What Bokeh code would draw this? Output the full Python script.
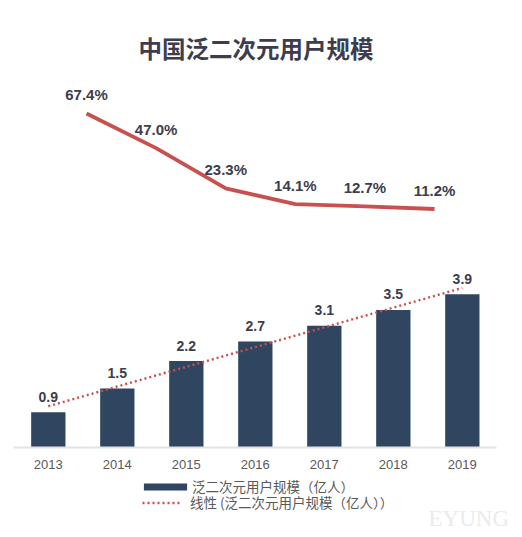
from bokeh.plotting import figure
from bokeh.core.properties import value
from bokeh.models import (ColumnDataSource, Range1d, Legend, LegendItem, FixedTicker, LinearAxis,
                          PrintfTickFormatter, LabelSet, Label, Title)
from bokeh.embed import file_html
from bokeh.resources import INLINE

title_text = "中国泛二次元用户规模"
years = [2013, 2014, 2015, 2016, 2017, 2018, 2019]
users = [0.9, 1.5, 2.2, 2.7, 3.1, 3.5, 3.9]
user_labels = ["0.9", "1.5", "2.2", "2.7", "3.1", "3.5", "3.9"]
trend_years = [2013, 2019]
trend_values = [1.05, 4.06]
growth_years = [2014, 2015, 2016, 2017, 2018, 2019]
growth = [67.4, 47.0, 23.3, 14.1, 12.7, 11.2]
growth_labels = ["67.4%", "47.0%", "23.3%", "14.1%", "12.7%", "11.2%"]
legend_bar = "泛二次元用户规模（亿人）"
legend_trend = "线性 (泛二次元用户规模（亿人））"
watermark = "EYUNG"

NAVY = "#2f4560"
RED = "#c9504f"
DARK = "#3d3d4d"
GREY = "#595959"
CJK = "Noto Sans CJK SC"
LATIN = "Liberation Sans"

p = figure(width=522, height=537, output_backend="svg", toolbar_location=None,
           x_range=Range1d(2012.307, 2019.872),
           y_range=Range1d(-2.29, 9.593),
           frame_width=522, frame_height=467,
           min_border_left=0, min_border_right=0, min_border_top=70, min_border_bottom=0,
           x_axis_location=None, y_axis_location=None,
           outline_line_color=None, background_fill_color="white", border_fill_color="white")
p.grid.visible = False

xaxis = LinearAxis(ticker=FixedTicker(ticks=years), formatter=PrintfTickFormatter(format="%d"),
                   fixed_location=0, bounds=(2012.5, 2019.5),
                   axis_line_color="#e3e3e3", axis_line_width=2,
                   major_tick_line_color=None, minor_tick_line_color=None,
                   major_label_text_font=LATIN, major_label_text_font_size="13px",
                   major_label_text_color=GREY, major_label_standoff=6)
p.add_layout(xaxis, "below")

p.title = Title(text=title_text, align="left", offset=138, text_font=CJK, text_font_size="23.5px",
                text_font_style="bold", text_color=DARK, standoff=12)

p.extra_x_ranges["growth_x"] = Range1d(2012.764, 2020.264)
p.extra_y_ranges["growth_y"] = Range1d(-182.0, 92.66)

bar_src = ColumnDataSource(dict(x=years, y=users, t=user_labels))
bars = p.vbar(x="x", top="y", bottom=0, width=0.497, source=bar_src, fill_color=NAVY, line_color=None)
trend = p.line(trend_years, trend_values, line_color=RED, line_width=2.4, line_dash=[2, 3])

growth_src = ColumnDataSource(dict(x=growth_years, y=growth, t=growth_labels))
p.line("x", "y", source=growth_src, x_range_name="growth_x", y_range_name="growth_y",
       line_color=RED, line_width=3.8, line_join="round")

p.add_layout(LabelSet(x="x", y="y", text="t", source=bar_src, text_font=value(LATIN), text_font_size="14px",
                      text_font_style="bold", text_color=DARK, text_align="center",
                      text_baseline="middle", y_offset=15.5))
p.add_layout(LabelSet(x="x", y="y", text="t", source=growth_src, x_range_name="growth_x",
                      y_range_name="growth_y", text_font=value(LATIN), text_font_size="15px",
                      text_font_style="bold", text_color=DARK, text_align="center",
                      text_baseline="middle", y_offset=19))

legend_style = dict(orientation="vertical", border_line_color=None, background_fill_alpha=0,
                    padding=0, margin=0, spacing=0, label_height=16,
                    label_text_font=CJK, label_text_font_size="13.5px", label_text_color=GREY,
                    label_text_line_height=1.0)
p.add_layout(Legend(items=[LegendItem(label=legend_bar, renderers=[bars])],
                    location=(138, 41), glyph_width=54, glyph_height=9, label_standoff=-2,
                    **legend_style), "center")
p.add_layout(Legend(items=[LegendItem(label=legend_trend, renderers=[trend])],
                    location=(142, 25), glyph_width=40, glyph_height=7, label_standoff=8,
                    **legend_style), "center")

p.add_layout(Label(x=428, y=7, x_units="screen", y_units="screen", text=watermark,
                   text_font="Liberation Serif", text_font_size="23px", text_color="#ebebeb"))

open("out.html", "w").write(file_html(p, INLINE))
